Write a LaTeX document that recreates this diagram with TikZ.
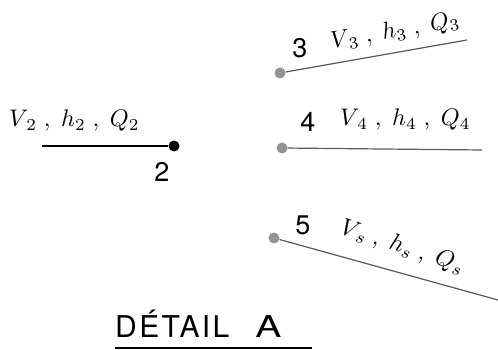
\documentclass[tikz,border=0pt]{standalone}
\usepackage{fontspec}
\setsansfont{TeX Gyre Heros}
\newfontfamily\titlefont[LetterSpace=8]{TeX Gyre Heros}
\begin{document}
\begin{tikzpicture}[x=1pt,y=1pt,
  dotb/.style={circle,fill=black,inner sep=0pt,minimum size=11pt},
  dotg/.style={circle,fill=gray!85,inner sep=0pt,minimum size=11pt},
  num/.style={font=\sffamily\fontsize{27}{29}\selectfont,inner sep=0pt,anchor=base},
  var/.style={inner sep=0pt,anchor=base west},
  ln/.style={line width=1.2pt,gray!70!black}]
\newcommand{\vtext}[1]{\scalebox{2.4}{$V_{\,#1}\;,\;h_{#1}\;,\;Q_{#1}$}}
\useasboundingbox (0,0) rectangle (498,350);
% node 2
\node[dotb] (n2) at (174,204) {};
\coordinate (e2) at (42,204);
\draw[line width=1.2pt] (e2) -- (n2);
\node[num] (l2) at (162,168) {2};
\node[var] (v2) at (9,223) {\vtext{2}};
% node 3
\node[dotg] (n3) at (280,277) {};
\coordinate (e3) at (467,310);
\draw[ln] (n3) -- (e3);
\node[num] (l3) at (300,292) {3};
\node[var,rotate=10] (v3) at (332,301) {\vtext{3}};
% node 4
\node[dotg] (n4) at (282,202) {};
\coordinate (e4) at (482,200);
\draw[ln] (n4) -- (e4);
\node[num] (l4) at (308,218) {4};
\node[var] (v4) at (340,224) {\vtext{4}};
% node 5
\node[dotg] (n5) at (274,112) {};
\coordinate (e5) at (498,50);
\draw[ln] (n5) -- (e5);
\node[num] (l5) at (303,115) {5};
\node[var,rotate=-18] (v5) at (339,117) {\vtext{s}};
% title
\node[num,font=\titlefont\fontsize{30}{32}\selectfont,anchor=base west] (t) at (115,12) {DÉTAIL\hspace{26pt}\scalebox{1.3}[1]{A}};
\coordinate (u1) at (115,2);
\coordinate (u2) at (312,2);
\draw[line width=1.2pt] (u1) -- (u2);
\end{tikzpicture}
\end{document}
